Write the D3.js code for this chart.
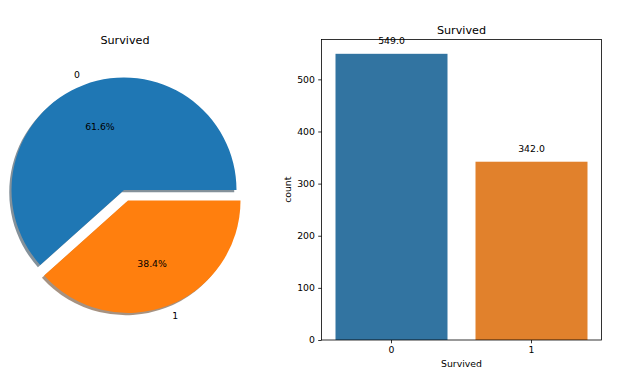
<!DOCTYPE html>
<html><head><meta charset="utf-8">
<script src="https://cdn.jsdelivr.net/npm/d3@7"></script>
<style>body{margin:0;background:#fff}text{font-family:"DejaVu Sans",sans-serif;fill:#000}</style>
</head><body>
<svg id="c" width="630" height="385"></svg>
<script>
const categories = ["0", "1"];
const counts = [549, 342];
const pieColors = ["#1f77b4", "#ff7f0e"];
const barColors = ["#3274a1", "#e1812c"];
const yTicks = [0, 100, 200, 300, 400, 500];
const explode = [0, 0.1];
const title = "Survived";

const FS = 9.3, TFS = 11.2;
const svg = d3.select("#c");

// ---- Pie ----
const cx = 124, cy = 190, r = 112.5;
const total = d3.sum(counts);
let acc = 0;
const slices = counts.map((v, i) => {
  const t0 = acc / total * 2 * Math.PI;
  acc += v;
  const t1 = acc / total * 2 * Math.PI;
  return {v, i, t0, t1, mid: (t0 + t1) / 2};
});
const arc = d3.arc().innerRadius(0).outerRadius(r);
const pg = svg.append("g");
function off(s) {
  const e = explode[s.i] * r;
  return [cx + e * Math.cos(s.mid), cy - e * Math.sin(s.mid)];
}
function arcPath(s) {
  return arc({startAngle: Math.PI / 2 - s.t1, endAngle: Math.PI / 2 - s.t0});
}
slices.forEach(s => {
  const [x, y] = off(s);
  const c = d3.rgb(pieColors[s.i]);
  const sc = d3.rgb(c.r * 0.3, c.g * 0.3, c.b * 0.3);
  pg.append("path").attr("d", arcPath(s))
    .attr("transform", `translate(${x - 0.02 * r},${y + 0.02 * r})`)
    .attr("fill", sc).attr("opacity", 0.5);
});
slices.forEach(s => {
  const [x, y] = off(s);
  pg.append("path").attr("d", arcPath(s))
    .attr("transform", `translate(${x},${y})`)
    .attr("fill", pieColors[s.i]);
});
slices.forEach(s => {
  const [x, y] = off(s);
  const lx = x + 1.1 * r * Math.cos(s.mid), ly = y - 1.1 * r * Math.sin(s.mid);
  pg.append("text").attr("x", lx).attr("y", ly).attr("dy", "0.35em")
    .attr("text-anchor", Math.cos(s.mid) < 0 ? "end" : "start")
    .attr("font-size", FS).text(categories[s.i]);
  const px = x + 0.6 * r * Math.cos(s.mid), py = y - 0.6 * r * Math.sin(s.mid);
  pg.append("text").attr("x", px).attr("y", py).attr("dy", "0.35em")
    .attr("text-anchor", "middle").attr("font-size", FS)
    .text((s.v / total * 100).toFixed(1) + "%");
});
pg.append("text").attr("x", cx + 1).attr("y", 44).attr("text-anchor", "middle")
  .attr("font-size", TFS).text(title);

// ---- Bar ----
const L = 321.5, R = 601.5, T = 39.5, B = 340;
const x = d3.scaleBand().domain(categories).range([L, R]).paddingInner(0.2).paddingOuter(0.1);
const y = d3.scaleLinear().domain([0, d3.max(counts) * 1.05]).range([B, T]);
const bg = svg.append("g");
bg.selectAll("rect.bar").data(counts).join("rect").attr("class", "bar")
  .attr("x", (d, i) => x(categories[i])).attr("width", x.bandwidth())
  .attr("y", d => y(d)).attr("height", d => B - y(d))
  .attr("fill", (d, i) => barColors[i]);
bg.selectAll("text.lab").data(counts).join("text").attr("class", "lab")
  .attr("x", (d, i) => x(categories[i]) + x.bandwidth() / 2)
  .attr("y", d => y(d) - 10).attr("text-anchor", "middle").attr("font-size", FS)
  .text(d => d.toFixed(1));
const ya = bg.append("g").attr("transform", `translate(${L},0)`)
  .call(d3.axisLeft(y).tickValues(yTicks).tickSize(3.3).tickPadding(3.3));
const xa = bg.append("g").attr("transform", `translate(0,${B})`)
  .call(d3.axisBottom(x).tickSize(3.3).tickPadding(3.3));
[ya, xa].forEach(a => {
  a.select(".domain").remove();
  a.selectAll("text").attr("font-size", FS).style("font-family", "DejaVu Sans");
  a.selectAll("line").attr("stroke", "#000").attr("stroke-width", 0.8);
});
bg.append("rect").attr("x", L).attr("y", T).attr("width", R - L).attr("height", B - T)
  .attr("fill", "none").attr("stroke", "#000").attr("stroke-width", 0.8);
bg.append("text").attr("x", (L + R) / 2).attr("y", 34).attr("text-anchor", "middle")
  .attr("font-size", TFS).text(title);
bg.append("text").attr("x", (L + R) / 2).attr("y", 367).attr("text-anchor", "middle")
  .attr("font-size", FS).text(title);
bg.append("text").attr("transform", `translate(291,${(T + B) / 2}) rotate(-90)`)
  .attr("text-anchor", "middle").attr("font-size", FS).text("count");
</script>
</body></html>
